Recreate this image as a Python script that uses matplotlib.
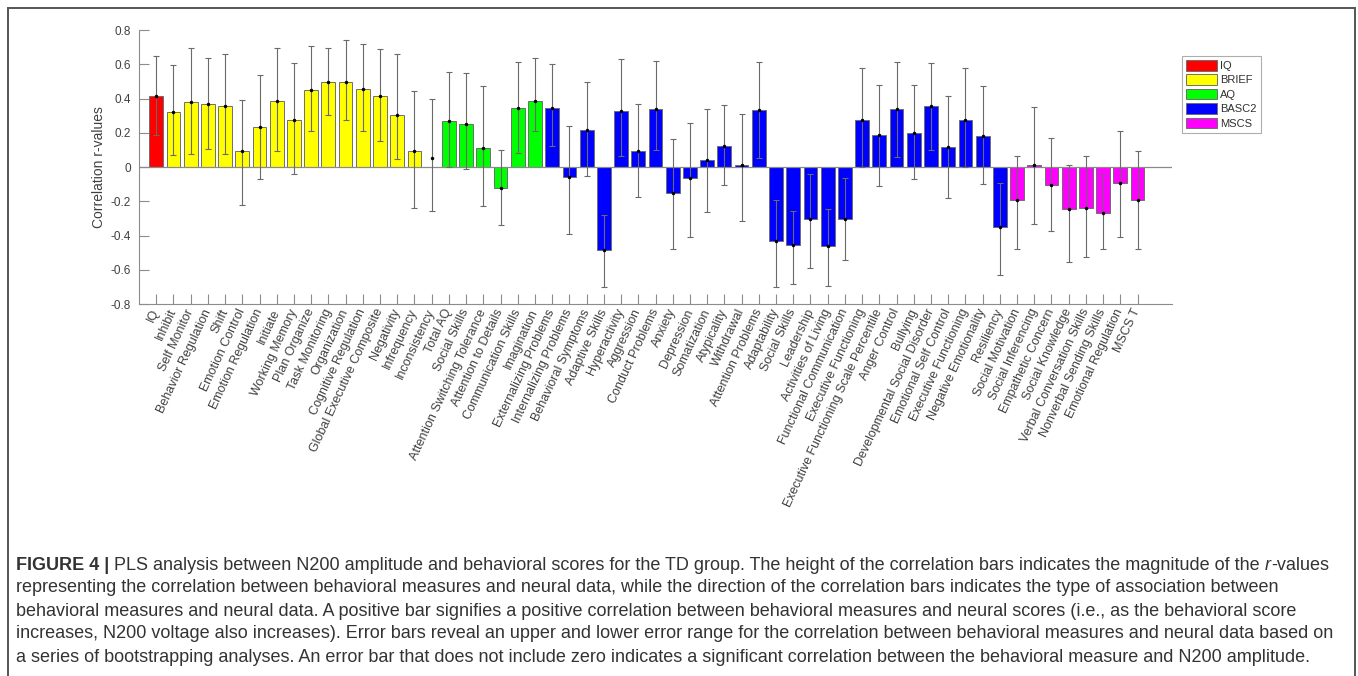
import numpy as np
import matplotlib
matplotlib.use("Agg")
import matplotlib.pyplot as plt
from matplotlib.patches import Patch, Rectangle

plt.rcParams['font.family'] = ['Liberation Sans', 'DejaVu Sans']
plt.rcParams['axes.unicode_minus'] = False

labels = ["IQ", "Inhibit", "Self Monitor", "Behavior Regulation", "Shift", "Emotion Control",
          "Emotion Regulation", "Initiate", "Working Memory", "Plan Organize", "Task Monitoring",
          "Organization", "Cognitive Regulation", "Global Executive Composite", "Negativity",
          "Infrequency", "Inconsistency", "Total AQ", "Social Skills", "Attention Switching Tolerance",
          "Attention to Details", "Communication Skills", "Imagination", "Externalizing Problems",
          "Internalizing Problems", "Behavioral Symptoms", "Adaptive Skills", "Hyperactivity",
          "Aggression", "Conduct Problems", "Anxiety", "Depression", "Somatization", "Atypicality",
          "Withdrawal", "Attention Problems", "Adaptability", "Social Skills", "Leadership",
          "Activities of Living", "Functional Communication", "Executive Functioning",
          "Executive Functioning Scale Percentile", "Anger Control", "Bullying",
          "Developmental Social Disorder", "Emotional Self Control", "Executive Functioning",
          "Negative Emotionality", "Resiliency", "Social Motivation", "Social Inferencing",
          "Empathetic Concern", "Social Knowledge", "Verbal Conversation Skills",
          "Nonverbal Sending Skills", "Emotional Regulation", "MSCS T"]

groups = (["IQ"] + ["BRIEF"] * 16 + ["AQ"] * 6 + ["BASC2"] * 27 + ["MSCS"] * 8)

values = [0.414, 0.324, 0.382, 0.367, 0.357, 0.092, 0.236, 0.388, 0.273, 0.447, 0.494,
          0.499, 0.458, 0.414, 0.302, 0.092, 0.053, 0.271, 0.250, 0.109, -0.121, 0.345,
          0.388, 0.347, -0.060, 0.218, -0.482, 0.328, 0.092, 0.341, -0.152, -0.062, 0.039,
          0.125, 0.010, 0.330, -0.431, -0.455, -0.304, -0.464, -0.302, 0.275, 0.189, 0.336,
          0.197, 0.355, 0.119, 0.275, 0.183, -0.353, -0.193, 0.012, -0.105, -0.246, -0.238,
          -0.271, -0.094, -0.193]

upper = [0.648, 0.593, 0.694, 0.636, 0.661, 0.392, 0.540, 0.696, 0.605, 0.706, 0.696,
         0.739, 0.716, 0.689, 0.657, 0.441, 0.400, 0.552, 0.546, 0.474, 0.099, 0.616,
         0.634, 0.599, 0.238, 0.494, -0.283, 0.630, 0.369, 0.618, 0.166, 0.258, 0.341,
         0.361, 0.310, 0.613, -0.191, -0.256, -0.041, -0.246, -0.066, 0.576, 0.480, 0.616,
         0.480, 0.605, 0.414, 0.576, 0.472, -0.092, 0.064, 0.353, 0.170, 0.012, 0.062,
         -0.049, 0.211, 0.092]

lower = [0.189, 0.070, 0.078, 0.103, 0.078, -0.222, -0.072, 0.092, -0.039, 0.211, 0.306,
         0.277, 0.211, 0.152, 0.045, -0.242, -0.258, 0.000, -0.014, -0.230, -0.341, 0.084,
         0.209, 0.123, -0.394, -0.053, -0.698, 0.064, -0.178, 0.098, -0.478, -0.410, -0.263,
         -0.103, -0.316, 0.053, -0.698, -0.683, -0.591, -0.696, -0.544, 0.000, -0.111, 0.060,
         -0.070, 0.099, -0.183, 0.000, -0.099, -0.630, -0.480, -0.334, -0.375, -0.554, -0.525,
         -0.480, -0.410, -0.476]

hidden_bars = ["Inconsistency"]

group_names = ["IQ", "BRIEF", "AQ", "BASC2", "MSCS"]
group_colors = {"IQ": "#ff0000", "BRIEF": "#ffff00", "AQ": "#00ff00",
                "BASC2": "#0000ff", "MSCS": "#ff00ff"}

yticks = [-0.8, -0.6, -0.4, -0.2, 0, 0.2, 0.4, 0.6, 0.8]
ytick_labels = ["-0.8", "-0.6", "-0.4", "-0.2", "0", "0.2", "0.4", "0.6", "0.8"]

caption_lines = [
    [("FIGURE 4 |", dict(weight="bold")),
     (" PLS analysis between N200 amplitude and behavioral scores for the TD group. The height of the correlation bars indicates the magnitude of the ", {}),
     ("r", dict(style="italic")),
     ("-values", {})],
    [("representing the correlation between behavioral measures and neural data, while the direction of the correlation bars indicates the type of association between", {})],
    [("behavioral measures and neural data. A positive bar signifies a positive correlation between behavioral measures and neural scores (i.e., as the behavioral score", {})],
    [("increases, N200 voltage also increases). Error bars reveal an upper and lower error range for the correlation between behavioral measures and neural data based on", {})],
    [("a series of bootstrapping analyses. An error bar that does not include zero indicates a significant correlation between the behavioral measure and N200 amplitude.", {})],
]

W, H = 1358, 676
fig = plt.figure(figsize=(W / 100, H / 100), dpi=100)
fig.patch.set_facecolor("white")

ax = fig.add_axes([139 / W, 1 - 304 / H, (1172 - 139) / W, (304 - 30) / H])

x = np.arange(1, len(labels) + 1)
vals = np.array(values)
up = np.array(upper)
lo = np.array(lower)
face = [("none" if lab in hidden_bars else group_colors[g]) for lab, g in zip(labels, groups)]
edge = [("none" if lab in hidden_bars else "#6e6e6e") for lab in labels]

ax.bar(x, vals, width=0.8, color=face, edgecolor=edge, linewidth=0.7, zorder=2)
ax.axhline(0, color="#8a8a8a", lw=0.9, zorder=3)
ax.errorbar(x, vals, yerr=[vals - lo, up - vals], fmt="none", ecolor="#6a6a6a",
            elinewidth=0.8, capsize=2.0, capthick=0.8, zorder=4)
ax.plot(x, vals, ".", color="black", ms=3, zorder=5)

ax.set_xlim(0, 60)
ax.set_ylim(-0.8, 0.8)
ax.set_yticks(yticks)
ax.set_yticklabels(ytick_labels)
ax.set_xticks(x)
ax.set_xticklabels(labels, rotation=65, ha="right", va="center", rotation_mode="anchor")

for s in ["top", "right"]:
    ax.spines[s].set_visible(False)
for s in ["left", "bottom"]:
    ax.spines[s].set_color("#8c8c8c")
    ax.spines[s].set_linewidth(0.8)
ax.tick_params(axis="both", direction="in", length=7, width=0.8, color="#8c8c8c",
               labelcolor="#404040")
ax.tick_params(axis="x", pad=4, labelsize=9)
ax.tick_params(axis="y", pad=6, labelsize=8.5)
ax.set_ylabel("Correlation r-values", fontsize=10, color="#404040", labelpad=3)

handles = [Patch(facecolor=group_colors[g], edgecolor="#6e6e6e", linewidth=0.7, label=g)
           for g in group_names]
leg = fig.legend(handles=handles, loc="upper left", bbox_to_anchor=(1182 / W, 1 - 56 / H),
                 fontsize=8, frameon=True, fancybox=False, handlelength=2.8,
                 handleheight=1.1, labelspacing=0.3, handletextpad=0.3,
                 borderpad=0.35, borderaxespad=0)
leg.get_frame().set_edgecolor("#9a9a9a")
leg.get_frame().set_linewidth(0.8)
for t in leg.get_texts():
    t.set_color("#303030")

# figure border
fig.patches.append(Rectangle((8 / W, -0.02), (1355 - 8) / W, 1 - 8 / H + 0.02,
                             transform=fig.transFigure, fill=False,
                             edgecolor="#555555", linewidth=1.4))

# caption
renderer = fig.canvas.get_renderer()
line_y = [565, 588, 611, 634, 657]
cap_size = 13.0
for yy, runs in zip(line_y, caption_lines):
    xp = 16.0
    for txt, props in runs:
        t = fig.text(xp / W, 1 - yy / H, txt, fontsize=cap_size, color="#333333",
                     va="center", ha="left", **props)
        bb = t.get_window_extent(renderer)
        xp += bb.width

fig.savefig("out.png", dpi=100)
